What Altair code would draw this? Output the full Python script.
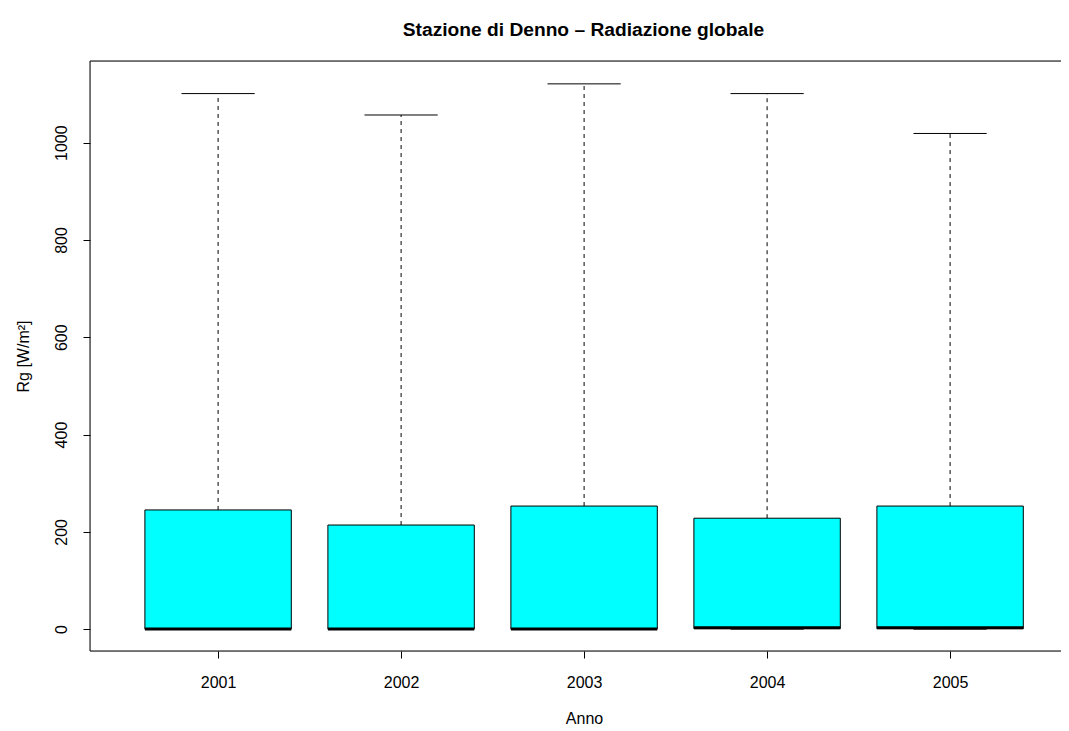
import altair as alt
import pandas as pd

years = [2001, 2002, 2003, 2004, 2005]
q1 = [0, 0, 0, 1, 1]
median = [0, 0, 0, 3, 3]
q3 = [245, 214, 253, 228, 253]
wmin = [0, 0, 0, 0, 0]
wmax = [1101, 1057, 1121, 1101, 1019]

df = pd.DataFrame({"year": years, "q1": q1, "median": median, "q3": q3,
                   "wmin": wmin, "wmax": wmax})

FONT = "Liberation Sans"
W, H = 971, 590

xscale = alt.Scale(domain=[0.3, 0.3 + W / 183.0], nice=False, zero=False)
yscale = alt.Scale(domain=[-45, 1168], nice=False, zero=False)

xaxis = alt.Axis(values=[1, 2, 3, 4, 5], labelExpr="format(datum.value + 2000, 'd')",
                 title="Anno", domain=False, tickColor="black", tickSize=7,
                 labelFontSize=16, labelColor="black", labelFont=FONT,
                 labelPadding=16, titleFont=FONT, titleFontSize=16,
                 titleFontWeight="normal", titleColor="black", titlePadding=20,
                 titleX=494, titleAlign="center",
                 grid=False, labelFlush=False)
yaxis = alt.Axis(values=[0, 200, 400, 600, 800, 1000], format="d", title="Rg [W/m²]",
                 domain=False, tickColor="black", tickSize=7, labelAngle=270,
                 labelAlign="center", labelBaseline="bottom", labelFontSize=16,
                 labelColor="black", labelFont=FONT, labelPadding=14,
                 titleFont=FONT, titleFontSize=16, titleFontWeight="normal",
                 titleColor="black", titlePadding=22, grid=False, labelFlush=False)

base = alt.Chart(df).transform_calculate(
    pos="datum.year - 2000",
    lo="datum.year - 2000 - 0.4",
    hi="datum.year - 2000 + 0.4",
    clo="datum.year - 2000 - 0.2",
    chi="datum.year - 2000 + 0.2",
)

whisk = base.mark_rule(color="black", strokeWidth=1, strokeDash=[4, 4]).encode(
    x=alt.X("pos:Q", scale=xscale, axis=xaxis),
    y=alt.Y("q3:Q", scale=yscale, axis=yaxis),
    y2="wmax:Q",
)
whisk_lo = base.mark_rule(color="black", strokeWidth=1, strokeDash=[4, 4]).encode(
    x="pos:Q", y="wmin:Q", y2="q1:Q"
)
caps = base.mark_rule(color="black", strokeWidth=1).encode(
    x="clo:Q", x2="chi:Q", y="wmax:Q"
)
caps_lo = base.mark_rule(color="black", strokeWidth=1).encode(
    x="clo:Q", x2="chi:Q", y="wmin:Q"
)
boxes = base.mark_rect(fill="#00FFFF", stroke="black", strokeWidth=1).encode(
    x="lo:Q", x2="hi:Q", y="q1:Q", y2="q3:Q"
)
med = base.mark_rule(color="black", strokeWidth=3).encode(
    x="lo:Q", x2="hi:Q", y="median:Q"
)

frame_df = pd.DataFrame({"k": [0]})
frame_left = alt.Chart(frame_df).mark_rule(color="black", strokeWidth=1).encode(
    x=alt.value(0), y=alt.value(0), y2=alt.value(H)
)
frame_top = alt.Chart(frame_df).mark_rule(color="black", strokeWidth=1).encode(
    x=alt.value(0), x2=alt.value(W), y=alt.value(0)
)
frame_bottom = alt.Chart(frame_df).mark_rule(color="black", strokeWidth=1).encode(
    x=alt.value(0), x2=alt.value(W), y=alt.value(H)
)

chart = alt.layer(whisk, whisk_lo, caps, caps_lo, boxes, med,
                  frame_left, frame_top, frame_bottom).properties(
    width=W, height=H,
    title=alt.TitleParams("Stazione di Denno – Radiazione globale", font=FONT,
                          fontSize=19.2, fontWeight="bold", color="black",
                          anchor="middle", frame="group", dx=8, offset=20),
    autosize=alt.AutoSizeParams(type="none"),
    padding={"left": 82, "top": 53, "right": 0, "bottom": 80},
).configure_view(stroke=None).configure(background="white")

chart.save("out.html", embed_options={"renderer": "svg", "actions": False})
